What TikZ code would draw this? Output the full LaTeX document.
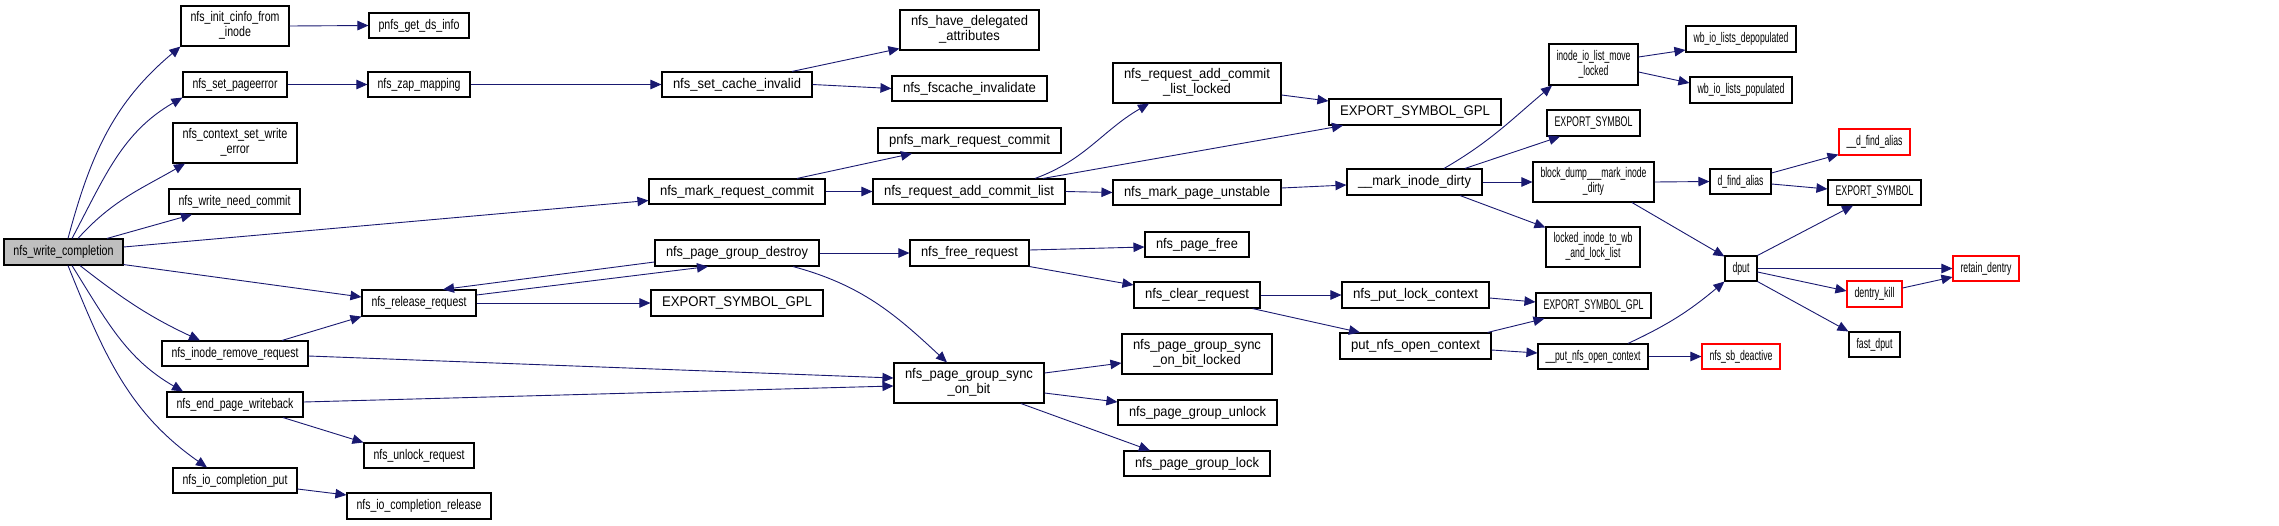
\documentclass[tikz,border=0pt]{standalone}
\usepackage{fontspec}
\setmainfont{Liberation Sans}
\usetikzlibrary{arrows.meta}
\definecolor{edgec}{HTML}{191970}
\definecolor{rootc}{HTML}{BFBFBF}
\newlength\fitlen
\newcommand\fitw[2]{\sbox0{#2}\setlength\fitlen{\wd0}\pgfmathsetmacro\fsx{#1/\fitlen}\scalebox{\fsx}[1]{\usebox0}}
\newcommand\twol[2]{\begin{tabular}{@{}c@{}}#1\\#2\end{tabular}}
\def\padw{19}
\newcommand\nbox[7][]{%
 \pgfmathsetmacro\nbcx{(#3+#5)/2}\pgfmathsetmacro\nbcy{-(#4+#6)/2}%
 \pgfmathsetmacro\nbww{#5-#3}\pgfmathsetmacro\nbhh{#6-#4}\pgfmathsetmacro\nbtw{#5-#3-\padw}%
 \node[box,#1,minimum width=\nbww pt,minimum height=\nbhh pt] (#2) at (\nbcx,\nbcy) {\fitw{\nbtw}{#7}};}
\begin{document}
\begin{tikzpicture}[x=1pt,y=1pt,
 box/.style={draw=black,line width=1.1pt,fill=white,inner sep=0pt,rectangle,font=\fontsize{14}{15}\selectfont},
 redbox/.style={draw=red},
 root/.style={fill=rootc},
 edge/.style={draw=edgec,line width=0.9pt,-{Triangle[length=11pt,width=9.5pt]}}]
\useasboundingbox (0,0) rectangle (2279,-525);
% left
\def\padw{19}
\nbox[root]{W}{4}{239}{123}{265}{nfs\_write\_completion}
\nbox{init}{181}{6}{289}{46}{\twol{nfs\_init\_cinfo\_from}{\_inode}}
\nbox{pgdi}{369}{13}{469}{38}{pnfs\_get\_ds\_info}
\nbox{spe}{183}{72}{287}{97}{nfs\_set\_pageerror}
\nbox{zap}{368}{72}{470}{97}{nfs\_zap\_mapping}
\nbox{cswe}{173}{123}{297}{163}{\twol{nfs\_context\_set\_write}{\_error}}
\nbox{wnc}{169}{189}{300}{214}{nfs\_write\_need\_commit}
\nbox{rel}{362}{290}{476}{316}{nfs\_release\_request}
\nbox{irr}{162}{341}{308}{366}{nfs\_inode\_remove\_request}
\nbox{epw}{167}{392}{303}{417}{nfs\_end\_page\_writeback}
\nbox{unl}{364}{443}{474}{468}{nfs\_unlock\_request}
\nbox{iop}{173}{468}{297}{493}{nfs\_io\_completion\_put}
\nbox{ior}{347}{493}{491}{519}{nfs\_io\_completion\_release}
% middle
\def\padw{22}
\nbox{sci}{662}{72}{812}{97}{nfs\_set\_cache\_invalid}
\nbox{hda}{900}{10}{1039}{50}{\twol{nfs\_have\_delegated}{\_attributes}}
\nbox{fsi}{892}{76}{1047}{101}{nfs\_fscache\_invalidate}
\nbox{pmrc}{878}{128}{1061}{153}{pnfs\_mark\_request\_commit}
\nbox{mrc}{649}{179}{825}{204}{nfs\_mark\_request\_commit}
\nbox{racl}{873}{179}{1065}{204}{nfs\_request\_add\_commit\_list}
\nbox{pgd}{655}{240}{819}{266}{nfs\_page\_group\_destroy}
\nbox{fre}{910}{240}{1029}{266}{nfs\_free\_request}
\nbox{esg1}{651}{290}{823}{316}{EXPORT\_SYMBOL\_GPL}
\nbox{sob}{894}{363}{1044}{403}{\twol{nfs\_page\_group\_sync}{\_on\_bit}}
\nbox{racll}{1113}{63}{1281}{103}{\twol{nfs\_request\_add\_commit}{\_list\_locked}}
\nbox{esg2}{1329}{99}{1501}{125}{EXPORT\_SYMBOL\_GPL}
\nbox{mpu}{1113}{180}{1281}{205}{nfs\_mark\_page\_unstable}
\nbox{mid}{1347}{169}{1482}{195}{\_\_mark\_inode\_dirty}
\nbox{pfr}{1145}{232}{1249}{257}{nfs\_page\_free}
\nbox{clr}{1134}{282}{1260}{308}{nfs\_clear\_request}
\nbox{plc}{1342}{282}{1489}{308}{nfs\_put\_lock\_context}
\nbox{pnoc}{1340}{333}{1491}{359}{put\_nfs\_open\_context}
\nbox{sobl}{1122}{334}{1272}{374}{\twol{nfs\_page\_group\_sync}{\_on\_bit\_locked}}
\nbox{pgu}{1118}{400}{1277}{425}{nfs\_page\_group\_unlock}
\nbox{pgl}{1124}{451}{1270}{476}{nfs\_page\_group\_lock}
% right
\def\padw{15}
\nbox{ilml}{1549}{44}{1638}{85}{\twol{inode\_io\_list\_move}{\_locked}}
\nbox{wbd}{1686}{26}{1796}{52}{wb\_io\_lists\_depopulated}
\nbox{wbp}{1690}{77}{1792}{103}{wb\_io\_lists\_populated}
\nbox{es1}{1547}{110}{1640}{136}{EXPORT\_SYMBOL}
\nbox{bdm}{1533}{162}{1654}{202}{\twol{block\_dump\_\_\_mark\_inode}{\_dirty}}
\nbox{lil}{1546}{227}{1640}{267}{\twol{locked\_inode\_to\_wb}{\_and\_lock\_list}}
\nbox[redbox]{dfa2}{1839}{129}{1910}{155}{\_\_d\_find\_alias}
\nbox{dfa}{1710}{169}{1771}{194}{d\_find\_alias}
\nbox{es2}{1828}{180}{1921}{205}{EXPORT\_SYMBOL}
\nbox{dput}{1725}{256}{1757}{281}{dput}
\nbox[redbox]{ret}{1953}{256}{2019}{281}{retain\_dentry}
\nbox{esg3}{1536}{293}{1651}{318}{EXPORT\_SYMBOL\_GPL}
\nbox{pnoc2}{1538}{344}{1648}{369}{\_\_put\_nfs\_open\_context}
\nbox[redbox]{sbd}{1702}{344}{1780}{369}{nfs\_sb\_deactive}
\nbox[redbox]{dk}{1847}{281}{1902}{307}{dentry\_kill}
\nbox{fd}{1849}{332}{1900}{357}{fast\_dput}
% edges
\draw[edge] ([xshift=4.5pt]W.north) to[out=75,in=-140] (init.south west);
\draw[edge] ([xshift=8.5pt]W.north) to[out=62,in=-150] (spe.south west);
\draw[edge] ([xshift=14.5pt]W.north) to[out=48,in=-150] ([xshift=-50pt]cswe.south);
\draw[edge] ([xshift=43.5pt]W.north) -- ([xshift=-42.5pt]wnc.south);
\draw[edge] ([yshift=5pt]W.east) -- ([yshift=-9pt]mrc.west);
\draw[edge] ([yshift=1pt]W.south east) -- ([yshift=6pt]rel.west);
\draw[edge] ([xshift=16.5pt]W.south) to[out=-38,in=155] ([xshift=-35pt]irr.north);
\draw[edge] ([xshift=8.5pt]W.south) to[out=-58,in=150] ([xshift=-52pt]epw.north);
\draw[edge] ([xshift=4.5pt]W.south) to[out=-68,in=145] ([xshift=-28pt]iop.north);
\draw[edge] (init.east) -- (pgdi.west);
\draw[edge] (spe.east) -- (zap.west);
\draw[edge] (zap.east) -- (sci.west);
\draw[edge] ([xshift=55pt]sci.north) -- ([yshift=2pt]hda.south west);
\draw[edge] (sci.east) -- (fsi.west);
\draw[edge] ([xshift=60pt]mrc.north) -- ([xshift=-57.5pt]pmrc.south);
\draw[edge] (mrc.east) -- (racl.west);
\draw[edge] ([xshift=66pt]racl.north) to[out=20,in=-150] ([xshift=-48pt]racll.south);
\draw[edge] ([xshift=74pt]racl.north) -- ([xshift=-72pt]esg2.south);
\draw[edge] (racl.east) -- (mpu.west);
\draw[edge] ([yshift=-12pt]racll.east) -- ([yshift=11pt]esg2.west);
\draw[edge] ([yshift=4.5pt]mpu.east) -- ([yshift=-3pt]mid.west);
\draw[edge] ([xshift=29.5pt]mid.north) to[out=30,in=-140] ([xshift=-41.5pt]ilml.south);
\draw[edge] ([xshift=50.5pt]mid.north) -- ([xshift=-33.5pt]es1.south);
\draw[edge] (mid.east) -- (bdm.west);
\draw[edge] ([xshift=45.5pt]mid.south) -- ([yshift=-1pt]lil.north west);
\draw[edge] ([yshift=7.5pt]ilml.east) -- ([yshift=-11pt]wbd.west);
\draw[edge] ([yshift=-7.5pt]ilml.east) -- ([yshift=7pt]wbp.west);
\draw[edge] (bdm.east) -- (dfa.west);
\draw[edge] ([xshift=38.5pt]bdm.south) -- ([yshift=-1pt]dput.north west);
\draw[edge] ([yshift=8.5pt]dfa.east) -- ([yshift=1pt]dfa2.south west);
\draw[edge] ([yshift=-2.5pt]dfa.east) -- ([yshift=3.5pt]es2.west);
\draw[edge] (dput.north east) -- ([xshift=-21.5pt]es2.south);
\draw[edge] (dput.east) -- (ret.west);
\draw[edge] ([yshift=-3.5pt]dput.east) -- ([yshift=3pt]dk.west);
\draw[edge] (dput.south east) -- (fd.north west);
\draw[edge] ([yshift=6pt]dk.east) -- ([yshift=-8.5pt]ret.west);
\draw[edge] ([yshift=8pt]rel.east) -- ([xshift=-29pt]pgd.south);
\draw[edge] ([yshift=-9pt]pgd.west) -- ([xshift=24pt]rel.north);
\draw[edge] (rel.east) -- (esg1.west);
\draw[edge] ([xshift=47pt]irr.north) -- (rel.south west);
\draw[edge] ([yshift=-2.5pt]irr.east) -- ([yshift=5pt]sob.west);
\draw[edge] ([yshift=2.5pt]epw.east) -- ([yshift=-3pt]sob.west);
\draw[edge] ([xshift=48pt]epw.south) -- (unl.north west);
\draw[edge] ([yshift=-8.5pt]iop.east) -- ([yshift=11pt]ior.west);
\draw[edge] (pgd.east) -- (fre.west);
\draw[edge] ([xshift=56pt]pgd.south) to[out=-15,in=137] ([xshift=-22pt]sob.north);
\draw[edge] ([yshift=3pt]fre.east) -- ([yshift=-2.5pt]pfr.west);
\draw[edge] (fre.south east) -- ([yshift=10pt]clr.west);
\draw[edge] ([yshift=10pt]sob.east) -- ([yshift=-9pt]sobl.west);
\draw[edge] ([yshift=-10pt]sob.east) -- ([yshift=10.5pt]pgu.west);
\draw[edge] ([xshift=52pt]sob.south) -- ([xshift=-47pt]pgl.north);
\draw[edge] (clr.east) -- (plc.west);
\draw[edge] ([xshift=-8pt]clr.south east) -- ([xshift=-55.5pt]pnoc.north);
\draw[edge] ([yshift=-3pt]plc.east) -- ([yshift=3.5pt]esg3.west);
\draw[edge] ([xshift=-4pt]pnoc.north east) -- ([xshift=9pt]esg3.south west);
\draw[edge] ([yshift=-4pt]pnoc.east) -- ([yshift=3.5pt]pnoc2.west);
\draw[edge] ([xshift=35pt]pnoc2.north) to[out=25,in=-140] (dput.south west);
\draw[edge] (pnoc2.east) -- (sbd.west);
\end{tikzpicture}
\end{document}
